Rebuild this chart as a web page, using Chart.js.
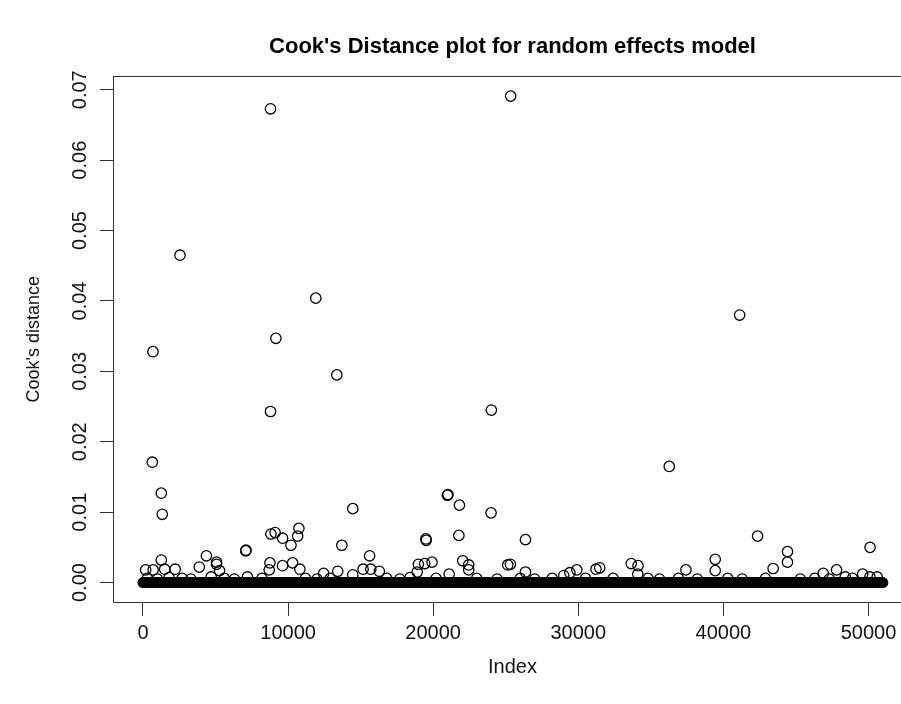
<!DOCTYPE html>
<html>
<head>
<meta charset="utf-8">
<title>Cook's Distance plot for random effects model</title>
<script src="https://cdn.jsdelivr.net/npm/chart.js@4.4.1/dist/chart.umd.min.js"></script>
<style>
  html, body { margin: 0; padding: 0; background: #fff; overflow: hidden; }
  /* the original plot box runs past the right edge of the picture */
  #wrap { position: relative; width: 1024px; height: 704px; }
</style>
</head>
<body>
<div id="wrap"><canvas id="cooks"></canvas></div>
<script>
// observations that stand out above the band (index, Cook's distance)
const outlierIndex = [
  184, 300, 640, 690, 700, 1000, 1262, 1262,
  1330, 1494, 1800, 2220, 2550, 2700, 3300, 3880,
  4370, 4700, 5070, 5070, 5280, 5600, 6300, 7080,
  7100, 7200, 8200, 8750, 8790, 8790, 8820, 8700,
  9110, 9160, 9620, 9620, 10200, 10310, 10660, 10745,
  10810, 11200, 11910, 12000, 12450, 12900, 13360, 13420,
  13705, 14460, 14460, 15170, 15620, 15700, 16290, 16800,
  17700, 18400, 18900, 18980, 19420, 19500, 19520, 19920,
  20200, 20980, 21020, 21100, 21770, 21810, 22040, 22450,
  22450, 23000, 23990, 24010, 24400, 25140, 25320, 25340,
  26000, 26360, 26360, 27000, 28200, 29000, 29420, 29900,
  30500, 31220, 31480, 32400, 33650, 34100, 34120, 34800,
  35600, 36270, 36900, 37420, 38200, 39440, 39440, 40300,
  41120, 41300, 42360, 42900, 43430, 44420, 44420, 45300,
  46300, 46880, 47300, 47800, 48400, 48900, 49600, 50100,
  50110, 50600
];
const outlierDistance = [
  0.0018, 0.0006, 0.0171, 0.0328, 0.0018, 0.0005, 0.0127, 0.0032,
  0.0097, 0.0019, 0.0007, 0.0019, 0.0465, 0.0006, 0.0005, 0.0022,
  0.0038, 0.0008, 0.0029, 0.0026, 0.0017, 0.0006, 0.0005, 0.0045,
  0.0046, 0.0008, 0.0006, 0.0028, 0.0673, 0.0243, 0.0069, 0.0018,
  0.0071, 0.0347, 0.0063, 0.0024, 0.0053, 0.0028, 0.0066, 0.0077,
  0.0019, 0.0006, 0.0404, 0.0005, 0.0013, 0.0006, 0.0295, 0.0016,
  0.0053, 0.0105, 0.0011, 0.0019, 0.0038, 0.0019, 0.0016, 0.0006,
  0.0005, 0.0007, 0.0015, 0.0026, 0.0027, 0.0062, 0.0060, 0.0029,
  0.0006, 0.0124, 0.0125, 0.0012, 0.0067, 0.0110, 0.0031, 0.0025,
  0.0018, 0.0006, 0.0099, 0.0245, 0.0005, 0.0025, 0.0026, 0.0691,
  0.0006, 0.0061, 0.0015, 0.0005, 0.0006, 0.0010, 0.0014, 0.0018,
  0.0006, 0.0019, 0.0021, 0.0006, 0.0027, 0.0012, 0.0024, 0.0006,
  0.0005, 0.0165, 0.0006, 0.0018, 0.0005, 0.0033, 0.0017, 0.0006,
  0.0380, 0.0005, 0.0066, 0.0006, 0.0020, 0.0044, 0.0029, 0.0005,
  0.0006, 0.0013, 0.0005, 0.0018, 0.0008, 0.0006, 0.0012, 0.0008,
  0.0050, 0.0008
];
// the other ~51000 observations sit at zero and merge into one solid band
const bandIndex = [1, 50990];
const bandDistance = [0, 0];

const xTicks = [0, 10000, 20000, 30000, 40000, 50000];
const yTicks = [0, 0.01, 0.02, 0.03, 0.04, 0.05, 0.06, 0.07];

const FONT = "'Liberation Sans', Arial, Helvetica, sans-serif";
const INK = '#111';
const AXIS = '#333';

// R draws a full box round the plot region
const boxPlugin = {
  id: 'plotBox',
  afterDraw(chart) {
    const { ctx, chartArea: a } = chart;
    ctx.save();
    ctx.strokeStyle = AXIS;
    ctx.lineWidth = 1;
    ctx.strokeRect(Math.round(a.left) + 0.5, Math.round(a.top) + 0.5,
      Math.round(a.right - a.left), Math.round(a.bottom - a.top));
    ctx.restore();
  }
};

const ctx = document.getElementById('cooks').getContext('2d');
new Chart(ctx, {
  type: 'scatter',
  data: {
    datasets: [
      {
        label: 'outliers',
        data: outlierIndex.map((x, i) => ({ x: x, y: outlierDistance[i] })),
        pointStyle: 'circle',
        pointRadius: 5.2,
        pointBorderWidth: 1.3,
        pointBackgroundColor: 'rgba(0,0,0,0)',
        pointBorderColor: '#000',
        pointHoverRadius: 5.2
      },
      {
        label: 'near zero',
        type: 'line',
        data: bandIndex.map((x, i) => ({ x: x, y: bandDistance[i] })),
        borderColor: '#000',
        borderWidth: 11,
        borderCapStyle: 'round',
        pointRadius: 0,
        fill: false
      }
    ]
  },
  options: {
    responsive: true,
    maintainAspectRatio: false,
    animation: false,
    layout: { padding: { left: 0, right: 112, top: 0, bottom: 0 } },
    plugins: {
      legend: { display: false },
      tooltip: { enabled: false },
      // titles are centred over the plot region, as R does
      title: {
        display: true,
        fullSize: false,
        text: "Cook's Distance plot for random effects model",
        color: '#000',
        font: { family: FONT, size: 22, weight: 'bold' },
        padding: { top: 34, bottom: 16 }
      },
      subtitle: {
        display: true,
        fullSize: false,
        position: 'bottom',
        text: 'Index',
        color: INK,
        font: { family: FONT, size: 20 },
        padding: { top: 0, bottom: 25 }
      }
    },
    scales: {
      x: {
        type: 'linear',
        min: -2066,
        max: 53000,
        afterBuildTicks: s => { s.ticks = xTicks.map(v => ({ value: v })); },
        afterFit: s => { s.height = 53; },
        grid: { drawOnChartArea: false, drawTicks: true, tickLength: 14, tickColor: AXIS, tickWidth: 1 },
        border: { display: true, color: AXIS, width: 1 },
        ticks: {
          maxRotation: 0,
          padding: 5,
          color: INK,
          font: { family: FONT, size: 20 },
          callback: v => String(v)
        }
      },
      y: {
        type: 'linear',
        min: -0.00276,
        max: 0.0719,
        afterBuildTicks: s => { s.ticks = yTicks.map(v => ({ value: v })); },
        afterFit: s => { s.width = 113; },
        grid: { drawOnChartArea: false, drawTicks: true, tickLength: 13, tickColor: AXIS, tickWidth: 1 },
        border: { display: true, color: AXIS, width: 1 },
        ticks: {
          minRotation: 90,
          maxRotation: 90,
          crossAlign: 'center',
          padding: 0,
          color: INK,
          font: { family: FONT, size: 20 },
          callback: v => v.toFixed(2)
        },
        title: {
          display: true,
          text: "Cook's distance",
          color: INK,
          font: { family: FONT, size: 18 },
          padding: { top: 23, bottom: 0 }
        }
      }
    }
  },
  plugins: [boxPlugin]
});
</script>
</body>
</html>
